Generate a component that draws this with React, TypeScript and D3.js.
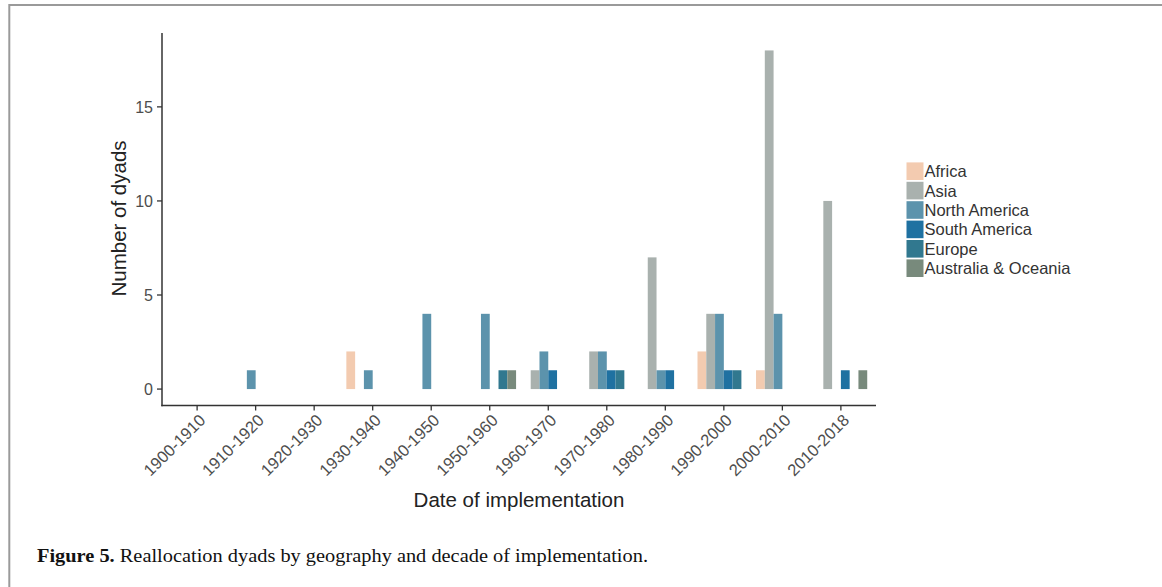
import React from "react";
import * as d3 from "d3";

// Decades of implementation (x categories)
const decades = [
  "1900-1910", "1910-1920", "1920-1930", "1930-1940", "1940-1950", "1950-1960",
  "1960-1970", "1970-1980", "1980-1990", "1990-2000", "2000-2010", "2010-2018",
];

// Regions (dodged bar groups, legend order)
const regions = ["Africa", "Asia", "North America", "South America", "Europe", "Australia & Oceania"];

// Dyad counts per decade, one array per region
const africa = [0, 0, 0, 2, 0, 0, 0, 0, 0, 2, 1, 0];
const asia = [0, 0, 0, 0, 0, 0, 1, 2, 7, 4, 18, 10];
const northAmerica = [0, 1, 0, 1, 4, 4, 2, 2, 1, 4, 4, 0];
const southAmerica = [0, 0, 0, 0, 0, 0, 1, 1, 1, 1, 0, 1];
const europe = [0, 0, 0, 0, 0, 1, 0, 1, 0, 1, 0, 0];
const oceania = [0, 0, 0, 0, 0, 1, 0, 0, 0, 0, 0, 1];

const seriesValues = [africa, asia, northAmerica, southAmerica, europe, oceania];

const regionColors = ["#f3cbb0", "#a9b1ae", "#5c93ac", "#1f71a1", "#31788f", "#788a7c"];

const yTicks = [0, 5, 10, 15];

const W = 1162;
const H = 587;

export default function App() {
  const x = d3.scalePoint<string>().domain(decades).range([162, 876]).padding(0.6);
  const step = x.step();
  const barW = (step * 0.9) / regions.length;

  const y = d3.scaleLinear().domain([-0.9, 18.9]).range([406, 33.5]);

  const sans = "'Liberation Sans', Arial, Helvetica, sans-serif";
  const serif = "'Liberation Serif', 'Times New Roman', serif";

  const bars: React.ReactNode[] = [];
  seriesValues.forEach((vals, si) => {
    vals.forEach((v, di) => {
      if (v <= 0) return;
      const cx = x(decades[di]) as number;
      const left = cx + (si - regions.length / 2) * barW;
      bars.push(
        <rect
          key={`${si}-${di}`}
          x={left}
          y={y(v)}
          width={barW}
          height={y(0) - y(v)}
          fill={regionColors[si]}
        />
      );
    });
  });

  const legendX = 906.5;
  const legendY = 161.5;
  const keyH = 19.4;

  return (
    <svg
      width={W}
      height={H}
      viewBox={`0 0 ${W} ${H}`}
      style={{ position: "absolute", left: 0, top: 0, background: "#fff" }}
    >
      <rect x={0} y={0} width={W} height={H} fill="#fff" />
      {/* page frame */}
      <line x1={9.3} y1={5} x2={W} y2={5} stroke="#9a9a9a" strokeWidth={2} />
      <line x1={9.3} y1={4} x2={9.3} y2={H} stroke="#9a9a9a" strokeWidth={2} />

      {/* bars */}
      <g>{bars}</g>

      {/* y axis */}
      <line x1={162} y1={33} x2={162} y2={406.2} stroke="#333" strokeWidth={1.5} />
      {yTicks.map((t) => (
        <g key={t}>
          <line x1={157} x2={162} y1={y(t)} y2={y(t)} stroke="#333" strokeWidth={1.3} />
          <text
            x={153}
            y={y(t)}
            dy="0.36em"
            textAnchor="end"
            fontFamily={sans}
            fontSize={16}
            fill="#4d4d4d"
          >
            {t}
          </text>
        </g>
      ))}

      {/* x axis */}
      <line x1={161.3} y1={405.5} x2={876} y2={405.5} stroke="#333" strokeWidth={1.5} />
      {decades.map((d) => {
        const cx = x(d) as number;
        return (
          <g key={d}>
            <line x1={cx} x2={cx} y1={405.5} y2={410.5} stroke="#333" strokeWidth={1.3} />
            <text
              transform={`translate(${cx + 1},${413}) rotate(-45)`}
              dy="0.71em"
              textAnchor="end"
              fontFamily={sans}
              fontSize={16.5}
              fill="#4d4d4d"
            >
              {d}
            </text>
          </g>
        );
      })}

      {/* axis titles */}
      <text
        x={519}
        y={500}
        dy="0.36em"
        textAnchor="middle"
        fontFamily={sans}
        fontSize={20.5}
        fill="#222"
      >
        Date of implementation
      </text>
      <text
        transform={`translate(118.5,218.5) rotate(-90)`}
        dy="0.36em"
        textAnchor="middle"
        fontFamily={sans}
        fontSize={20.5}
        fill="#222"
      >
        Number of dyads
      </text>

      {/* legend */}
      {regions.map((r, i) => (
        <g key={r}>
          <rect
            x={legendX}
            y={legendY + i * keyH + 0.9}
            width={17}
            height={keyH - 1.8}
            fill={regionColors[i]}
          />
          <text
            x={924.5}
            y={legendY + i * keyH + keyH / 2}
            dy="0.36em"
            fontFamily={sans}
            fontSize={16.5}
            fill="#333"
          >
            {r}
          </text>
        </g>
      ))}

      {/* caption */}
      <text
        x={37}
        y={562}
        fontFamily={serif}
        fontSize={18.5}
        fill="#111"
        textLength={611}
        lengthAdjust="spacingAndGlyphs"
      >
        <tspan fontWeight="bold">Figure 5.</tspan>
        <tspan> Reallocation dyads by geography and decade of implementation.</tspan>
      </text>
    </svg>
  );
}
